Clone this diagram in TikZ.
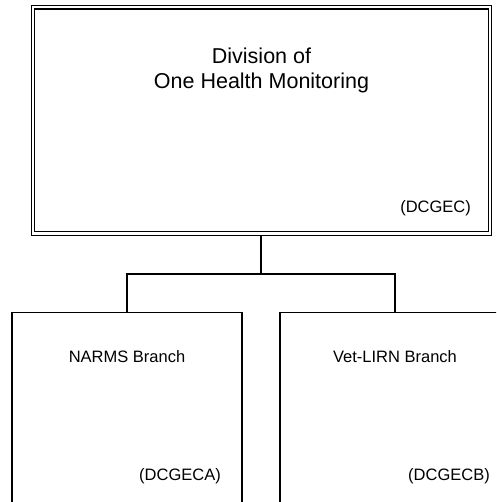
\documentclass[tikz,border=0pt]{standalone}
\usepackage{fontspec}
\setmainfont{Liberation Sans}
\usetikzlibrary{positioning}

\tikzset{
  divbox/.style={draw, line width=1.3pt, double, double distance=2.2pt, inner sep=0pt, outer sep=2.4pt, minimum width=457pt, minimum height=226.2pt},
  branchbox/.style={draw, line width=1.4pt, inner sep=0pt, outer sep=0pt, minimum width=230pt, minimum height=230pt, anchor=north},
  bigtext/.style={font=\fontsize{21.5}{25}\selectfont, align=center, inner sep=0pt},
  smalltext/.style={font=\fontsize{16.5}{20}\selectfont, inner sep=0pt},
  conn/.style={line width=1.4pt}
}

\begin{document}
\begin{tikzpicture}[x=1pt,y=-1pt]
\useasboundingbox (0,0) rectangle (496,502);
\clip (0,0) rectangle (496,502);

\node[divbox] (div) at (261.5,120.4) {};
\node[bigtext, anchor=north] (divtitle) at ([yshift=-42.6pt]div.north) {Division of\\One Health Monitoring};
\node[smalltext, anchor=base east] (divcode) at ([xshift=-21.3pt,yshift=23.8pt]div.south east) {(DCGEC)};

\node[branchbox] (narms) at (127,312.7) {};
\node[smalltext, anchor=base] (narmstitle) at ([yshift=-50pt]narms.north) {NARMS Branch};
\node[smalltext, anchor=base east] (narmscode) at ([xshift=-21pt,yshift=-167.3pt]narms.north east) {(DCGECA)};

\node[branchbox] (vet) at (395,312.7) {};
\node[smalltext, anchor=base] (vettitle) at ([yshift=-50pt]vet.north) {Vet-LIRN Branch};
\node[smalltext, anchor=base east] (vetcode) at ([xshift=-20pt,yshift=-167.3pt]vet.north east) {(DCGECB)};

\coordinate (fork) at (261,274);
\draw[conn] (div.south -| fork) -- (fork);
\draw[conn] (narms.north) |- (fork) -| (vet.north);
\end{tikzpicture}
\end{document}
